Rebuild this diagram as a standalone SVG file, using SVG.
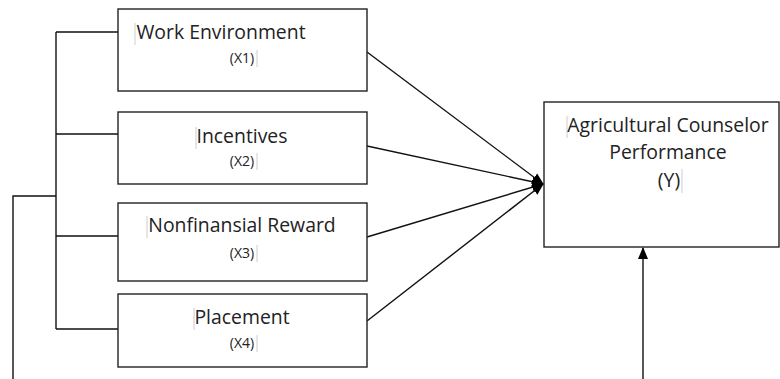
<svg xmlns="http://www.w3.org/2000/svg" width="780" height="379" viewBox="0 0 780 379">
<style>
.box{fill:#fff;stroke:#222;stroke-width:1.4}
.ln{fill:none;stroke:#111;stroke-width:1.4}
.t{font-family:"Open Sans","Liberation Sans",sans-serif;font-size:19.4px;fill:#222;text-anchor:middle}
.s{font-family:"Open Sans","Liberation Sans",sans-serif;font-size:14px;fill:#222;text-anchor:middle}
.bar{stroke:#ccc;stroke-width:1}
</style>
<defs>
<marker id="ah" markerWidth="12" markerHeight="12" refX="11" refY="6" orient="auto" markerUnits="userSpaceOnUse">
<path d="M0,1 L12,6 L0,11 Z" fill="#000"/>
</marker>
</defs>
<g id="connectors">
<path class="ln" d="M13,379 V196 H56"/>
<path class="ln" d="M56,32 V329"/>
<path class="ln" d="M56,32 H118 M56,134 H118 M56,236 H118 M56,329 H118"/>
<path class="ln" d="M367,52 L543,184" marker-end="url(#ah)"/>
<path class="ln" d="M367,146 L543,184" marker-end="url(#ah)"/>
<path class="ln" d="M367,237 L543,184" marker-end="url(#ah)"/>
<path class="ln" d="M367,321 L543,184" marker-end="url(#ah)"/>
<path class="ln" d="M643,379 V248" marker-end="url(#ah)"/>
</g>
<g id="x1">
<rect class="box" x="118" y="9" width="249" height="82"/>
<line class="bar" x1="135" y1="23" x2="135" y2="45"/>
<text class="t" x="221" y="39">Work Environment</text>
<text class="s" x="242" y="63">(X1)</text>
<line class="bar" x1="257" y1="50" x2="257" y2="67"/>
</g>
<g id="x2">
<rect class="box" x="118" y="112" width="249" height="72"/>
<line class="bar" x1="196" y1="127" x2="196" y2="149"/>
<text class="t" x="242" y="143">Incentives</text>
<text class="s" x="242" y="166">(X2)</text>
<line class="bar" x1="257" y1="153" x2="257" y2="170"/>
</g>
<g id="x3">
<rect class="box" x="118" y="203" width="249" height="78"/>
<line class="bar" x1="147" y1="216" x2="147" y2="238"/>
<text class="t" x="242" y="232">Nonfinansial Reward</text>
<text class="s" x="242" y="258">(X3)</text>
<line class="bar" x1="257" y1="245" x2="257" y2="262"/>
</g>
<g id="x4">
<rect class="box" x="118" y="294" width="249" height="73"/>
<line class="bar" x1="194" y1="308" x2="194" y2="330"/>
<text class="t" x="242" y="324">Placement</text>
<text class="s" x="242" y="348">(X4)</text>
<line class="bar" x1="257" y1="335" x2="257" y2="352"/>
</g>
<g id="y">
<rect class="box" x="544" y="102" width="235" height="145"/>
<line class="bar" x1="567" y1="116" x2="567" y2="138"/>
<text class="t" x="668" y="132">Agricultural Counselor</text>
<text class="t" x="668" y="159">Performance</text>
<text class="t" x="669" y="187">(Y)</text>
<line class="bar" x1="682" y1="169" x2="682" y2="193"/>
</g>
</svg>
